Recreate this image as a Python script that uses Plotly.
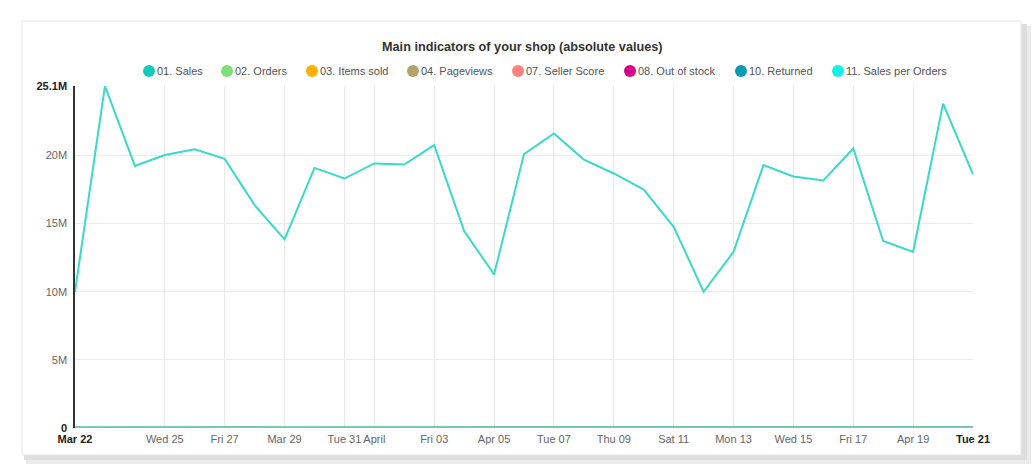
import plotly.graph_objects as go
import pandas as pd

# ---------------- data ----------------
dates = pd.date_range("2024-03-22", "2024-04-21", freq="D").strftime("%Y-%m-%d").tolist()

sales = [10.0, 25.1, 19.24, 20.04, 20.46, 19.75, 16.36, 13.84, 19.09, 18.31,
         19.42, 19.34, 20.76, 14.45, 11.27, 20.1, 21.61, 19.7, 18.68, 17.5,
         14.77, 10.0, 12.93, 19.29, 18.46, 18.17, 20.51, 13.72, 12.93, 23.81, 18.61]
sales = [v * 1e6 for v in sales]
orders = [310, 720, 560, 590, 600, 580, 480, 410, 560, 540, 570, 565, 610, 425, 330,
          590, 635, 580, 550, 515, 435, 295, 380, 565, 545, 535, 600, 405, 380, 700, 545]
items_sold = [420, 980, 760, 800, 815, 790, 650, 555, 760, 730, 775, 770, 825, 575, 450,
              800, 860, 785, 745, 700, 590, 400, 515, 770, 735, 725, 815, 550, 515, 950, 740]
pageviews = [82000, 91000, 88000, 89000, 90000, 88500, 85000, 82500, 88000, 87000, 88500,
             88000, 90500, 84000, 80500, 89000, 91500, 88000, 87500, 86000, 83500, 79000,
             81500, 88000, 87500, 87000, 89500, 82500, 81500, 92000, 87500]
seller_score = [95, 96, 95, 96, 96, 95, 95, 94, 95, 95, 96, 96, 96, 95, 95, 96, 96, 95,
                95, 95, 94, 94, 95, 96, 95, 95, 96, 95, 95, 96, 95]
out_of_stock = [12, 14, 13, 13, 12, 12, 11, 11, 12, 13, 13, 12, 12, 11, 11, 12, 13, 13,
                12, 12, 11, 10, 11, 12, 12, 12, 13, 12, 11, 13, 12]
returned = [3, 6, 4, 5, 5, 4, 4, 3, 5, 4, 5, 5, 5, 3, 3, 5, 6, 5, 4, 4, 3, 2, 3, 5, 4,
            4, 5, 3, 3, 6, 4]
sales_per_orders = [32258, 34861, 34357, 33966, 34100, 34052, 34083, 33756, 34089, 33907,
                    34070, 34230, 34033, 34000, 34152, 34068, 34031, 33966, 33964, 33981,
                    33954, 33898, 34026, 34142, 33872, 33963, 34183, 33877, 34026, 34014, 34147]

series_names = ["01. Sales", "02. Orders", "03. Items sold", "04. Pageviews",
                "07. Seller Score", "08. Out of stock", "10. Returned", "11. Sales per Orders"]
series_values = [sales, orders, items_sold, pageviews, seller_score, out_of_stock,
                 returned, sales_per_orders]
series_colors = ["#14cbbb", "#7fe07b", "#ffb000", "#b3a46e", "#ff8080", "#d6008b",
                 "#0a9bb0", "#14f0e6"]
line_colors = ["#3ad9ca", "#7fe07b", "#ffb000", "#b3a46e", "#ff8080", "#d6008b",
               "#0a9bb0", "#2ee8dc"]

x_tick_vals = ["2024-03-22", "2024-03-25", "2024-03-27", "2024-03-29", "2024-03-31",
               "2024-04-01", "2024-04-03", "2024-04-05", "2024-04-07", "2024-04-09",
               "2024-04-11", "2024-04-13", "2024-04-15", "2024-04-17", "2024-04-19",
               "2024-04-21"]
x_tick_text = ["<b><span style='color:#222'>Mar 22</span></b>", "Wed 25", "Fri 27", "Mar 29",
               "Tue 31", "April", "Fri 03", "Apr 05", "Tue 07", "Thu 09", "Sat 11",
               "Mon 13", "Wed 15", "Fri 17", "Apr 19",
               "<b><span style='color:#222'>Tue 21</span></b>"]
y_tick_vals = [0, 5e6, 10e6, 15e6, 20e6, 25.1e6]
y_tick_text = ["<b><span style='color:#222'>0</span></b>", "5M", "10M", "15M", "20M",
               "<b><span style='color:#222'>25.1M</span></b>"]

title_text = "Main indicators of your shop (absolute values)"

# ---------------- layout geometry (pixels) ----------------
W, H = 1036, 476
PL, PR, PT, PB = 75, 973, 86, 428


def px_x(px):
    return (px - PL) / (PR - PL)


def px_y(py):
    return (PB - py) / (PB - PT)


fig = go.Figure()

# draw small series first, sales last on top
order_idx = [3, 1, 2, 4, 5, 6, 7, 0]
for i in order_idx:
    fig.add_trace(go.Scatter(
        x=dates, y=series_values[i], name=series_names[i], mode="lines",
        line=dict(color=line_colors[i], width=2 if i in (0, 7) else 1.5),
        showlegend=False, hoverinfo="x+y+name"))

shapes = []
annotations = []

# card shadow and border
shapes.append(dict(type="rect", xref="paper", yref="paper",
                   x0=px_x(26), x1=px_x(1031), y0=px_y(464), y1=px_y(26),
                   fillcolor="#ebebeb", line=dict(width=0), layer="below"))
shapes.append(dict(type="rect", xref="paper", yref="paper",
                   x0=px_x(24), x1=px_x(1027), y0=px_y(460), y1=px_y(24),
                   fillcolor="#dedede", line=dict(width=0), layer="below"))
shapes.append(dict(type="rect", xref="paper", yref="paper",
                   x0=px_x(22), x1=px_x(1021), y0=px_y(455), y1=px_y(21),
                   fillcolor="#ffffff", line=dict(color="#e6e6e6", width=1), layer="below"))

# custom legend
leg_y = 71
marker_x = [149, 227, 312, 413, 518, 630, 741, 838]
for name, col, mx in zip(series_names, series_colors, marker_x):
    shapes.append(dict(type="circle", xref="paper", yref="paper",
                       xsizemode="pixel", ysizemode="pixel",
                       xanchor=px_x(mx), yanchor=px_y(leg_y),
                       x0=-6, x1=6, y0=-6, y1=6,
                       fillcolor=col, line=dict(width=0)))
    annotations.append(dict(text=name, xref="paper", yref="paper",
                            x=px_x(mx + 6), y=px_y(leg_y), xanchor="left", yanchor="middle",
                            showarrow=False, font=dict(size=11, color="#555555",
                                                       family="Liberation Sans, Arial")))

annotations.append(dict(text="<b>" + title_text + "</b>", xref="paper", yref="paper",
                        x=px_x(522), y=px_y(47), xanchor="center", yanchor="middle",
                        showarrow=False, font=dict(size=12.7, color="#333333",
                                                   family="Liberation Sans, Arial")))

fig.update_layout(
    width=W, height=H,
    margin=dict(l=PL, r=W - PR, t=PT, b=H - PB, pad=0),
    paper_bgcolor="#ffffff", plot_bgcolor="rgba(0,0,0,0)",
    font=dict(family="Liberation Sans, Arial", size=11, color="#666666"),
    shapes=shapes, annotations=annotations, showlegend=False,
    xaxis=dict(type="date", range=["2024-03-22", "2024-04-21"],
               tickvals=x_tick_vals, ticktext=x_tick_text, tickangle=0,
               showgrid=True, gridcolor="#e8e8e8", gridwidth=1,
               showline=False, zeroline=False, ticks="", ticklabelstandoff=3,
               tickfont=dict(size=11, color="#666666"), fixedrange=True),
    yaxis=dict(range=[0, 25.1e6], tickvals=y_tick_vals, ticktext=y_tick_text,
               showgrid=True, gridcolor="#ececec", gridwidth=1,
               showline=True, linecolor="#333333", linewidth=1.5,
               zeroline=False, ticks="", ticklabelstandoff=4,
               tickfont=dict(size=11, color="#666666"), fixedrange=True),
)

fig.write_html("out.html")
